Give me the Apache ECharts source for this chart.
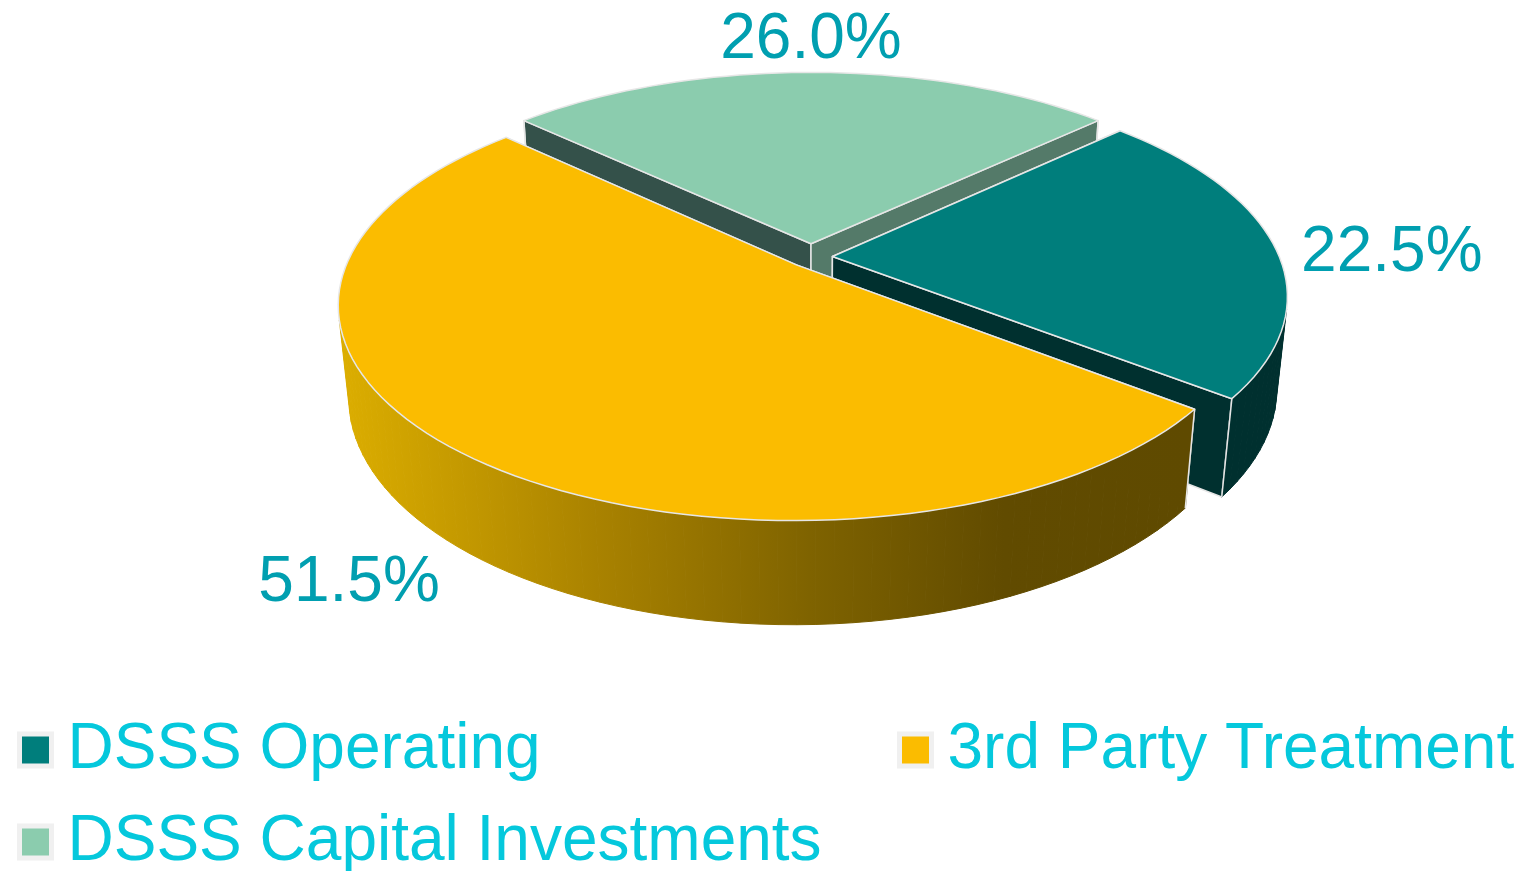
<!DOCTYPE html>
<html>
<head>
<meta charset="utf-8">
<title>Spend split</title>
<script src="https://cdn.jsdelivr.net/npm/echarts@6/dist/echarts.min.js"></script>
<style>
  html, body { margin: 0; padding: 0; background: #fff; }
  #chart { width: 1527px; height: 871px; }
</style>
</head>
<body>
<div id="chart"></div>
<script>
const categories = ['DSSS Operating', '3rd Party Treatment', 'DSSS Capital Investments'];
const shares = [22.5, 51.5, 26.0];

// look of each slice, same order as categories
const topColors = ['#007e7c', '#fbbc00', '#8bccae'];
const legendPos = [[17, 718], [897, 718], [17, 810]];
const explode = [0.048, 0.05, 0.065];
const labelShift = [[117, 6], [-106, 134], [0, -32]];
const drawZ = [2, 3, 1];

// camera for the tilted pie, radius is 1 in world units
const cx = 811, cy = 257, radiusPx = 447;
const sinP = 0.462, cosP = Math.sqrt(1 - sinP * sinP);
const camDist = 4.93, thickness = 0.234;
const startDeg = 46.8;

function project(x, y, z) {
  const s = radiusPx * camDist / (camDist - y * cosP - z * sinP);
  return [cx + x * s, cy + (y * sinP - z * cosP) * s];
}

// deg is clockwise from the back of the pie
function rim(deg, off, z) {
  const t = deg * Math.PI / 180;
  return project(off[0] + Math.sin(t), off[1] - Math.cos(t), z);
}

function arcPoints(a, b, off, z) {
  const pts = [];
  const n = Math.ceil(Math.abs(b - a) / 2);
  for (let i = 0; i <= n; i++) pts.push(rim(a + (b - a) * i / n, off, z));
  return pts;
}

function sliceRange(idx) {
  let a = startDeg;
  for (let i = 0; i < idx; i++) a += shares[i] * 3.6;
  return [a, a + shares[idx] * 3.6];
}

const edge = { stroke: '#e6e6e6', lineWidth: 1.5, lineJoin: 'round' };
const wallFill = [
  '#00302f',
  {
    type: 'linear', x: 345, y: 0, x2: 1190, y2: 0, global: true,
    colorStops: [
      { offset: 0, color: '#dbad00' },
      { offset: 0.3, color: '#a98200' },
      { offset: 0.55, color: '#7f6300' },
      { offset: 0.78, color: '#614b00' },
      { offset: 1, color: '#5f4a00' }
    ]
  },
  '#547a69'
];
const cutFill = [['#00302f', '#00302f'], ['#5f4a00', '#5f4a00'], ['#34514a', '#547a69']];

function poly(points, fill, stroke) {
  return {
    type: 'polygon',
    shape: { points: points },
    style: Object.assign({ fill: fill }, stroke ? edge : { stroke: fill, lineWidth: 1 })
  };
}

function seam(p, q) {
  return {
    type: 'line',
    shape: { x1: p[0], y1: p[1], x2: q[0], y2: q[1] },
    style: { stroke: edge.stroke, lineWidth: edge.lineWidth }
  };
}

// walls on the far side wind the other way on screen, those stay hidden
function facesViewer(q) {
  let area = 0;
  for (let i = 0; i < q.length; i++) {
    const n = q[(i + 1) % q.length];
    area += q[i][0] * n[1] - n[0] * q[i][1];
  }
  return area < 0;
}

function renderSlice(idx) {
  return function (params, api) {
    const value = api.value(0);
    const [a, b] = sliceRange(idx);
    const mid = (a + b) / 2 * Math.PI / 180;
    const off = [explode[idx] * Math.sin(mid), -explode[idx] * Math.cos(mid)];
    const apexTop = project(off[0], off[1], 0);
    const apexBot = project(off[0], off[1], -thickness);
    const topArc = arcPoints(a, b, off, 0);
    const botArc = arcPoints(a, b, off, -thickness);
    const end = topArc.length - 1;
    const labelAnchor = rim((a + b) / 2, off, 0);

    const children = [
      poly([apexTop, topArc[0], botArc[0], apexBot], cutFill[idx][0], true),
      poly([apexTop, topArc[end], botArc[end], apexBot], cutFill[idx][1], true)
    ];
    // outer wall as thin strips so the straight silhouette of the side comes out right
    for (let i = 0; i < end; i++) {
      const strip = [topArc[i], topArc[i + 1], botArc[i + 1], botArc[i]];
      if (facesViewer(strip)) children.push(poly(strip, wallFill[idx], false));
    }
    children.push(seam(topArc[0], botArc[0]), seam(topArc[end], botArc[end]));
    children.push(poly([apexTop].concat(topArc), topColors[idx], true));
    children.push({
      type: 'text',
      style: {
        text: value.toFixed(1) + '%',
        x: labelAnchor[0] + labelShift[idx][0],
        y: labelAnchor[1] + labelShift[idx][1],
        fill: '#009fb0',
        font: '64px "Liberation Sans", Arial, sans-serif',
        textAlign: 'center',
        textVerticalAlign: 'middle'
      }
    });
    return { type: 'group', children: children };
  };
}

const chart = echarts.init(document.getElementById('chart'));
chart.setOption({
  animation: false,
  backgroundColor: '#fff',
  legend: categories.map((name, i) => ({
    data: [name],
    left: legendPos[i][0],
    top: legendPos[i][1],
    padding: 0,
    icon: 'rect',
    itemWidth: 32,
    itemHeight: 32,
    itemGap: 0,
    selectedMode: false,
    itemStyle: { borderColor: '#f0f0f0', borderWidth: 5 },
    textStyle: {
      fontFamily: '"Liberation Sans", Arial, sans-serif',
      fontSize: 64,
      color: '#05c8dc',
      padding: [6, 0, 0, 11]
    }
  })),
  series: categories.map((name, i) => ({
    type: 'custom',
    name: name,
    coordinateSystem: 'none',
    z: drawZ[i],
    silent: true,
    itemStyle: { color: topColors[i] },
    data: [[shares[i]]],
    renderItem: renderSlice(i)
  }))
});
</script>
</body>
</html>
